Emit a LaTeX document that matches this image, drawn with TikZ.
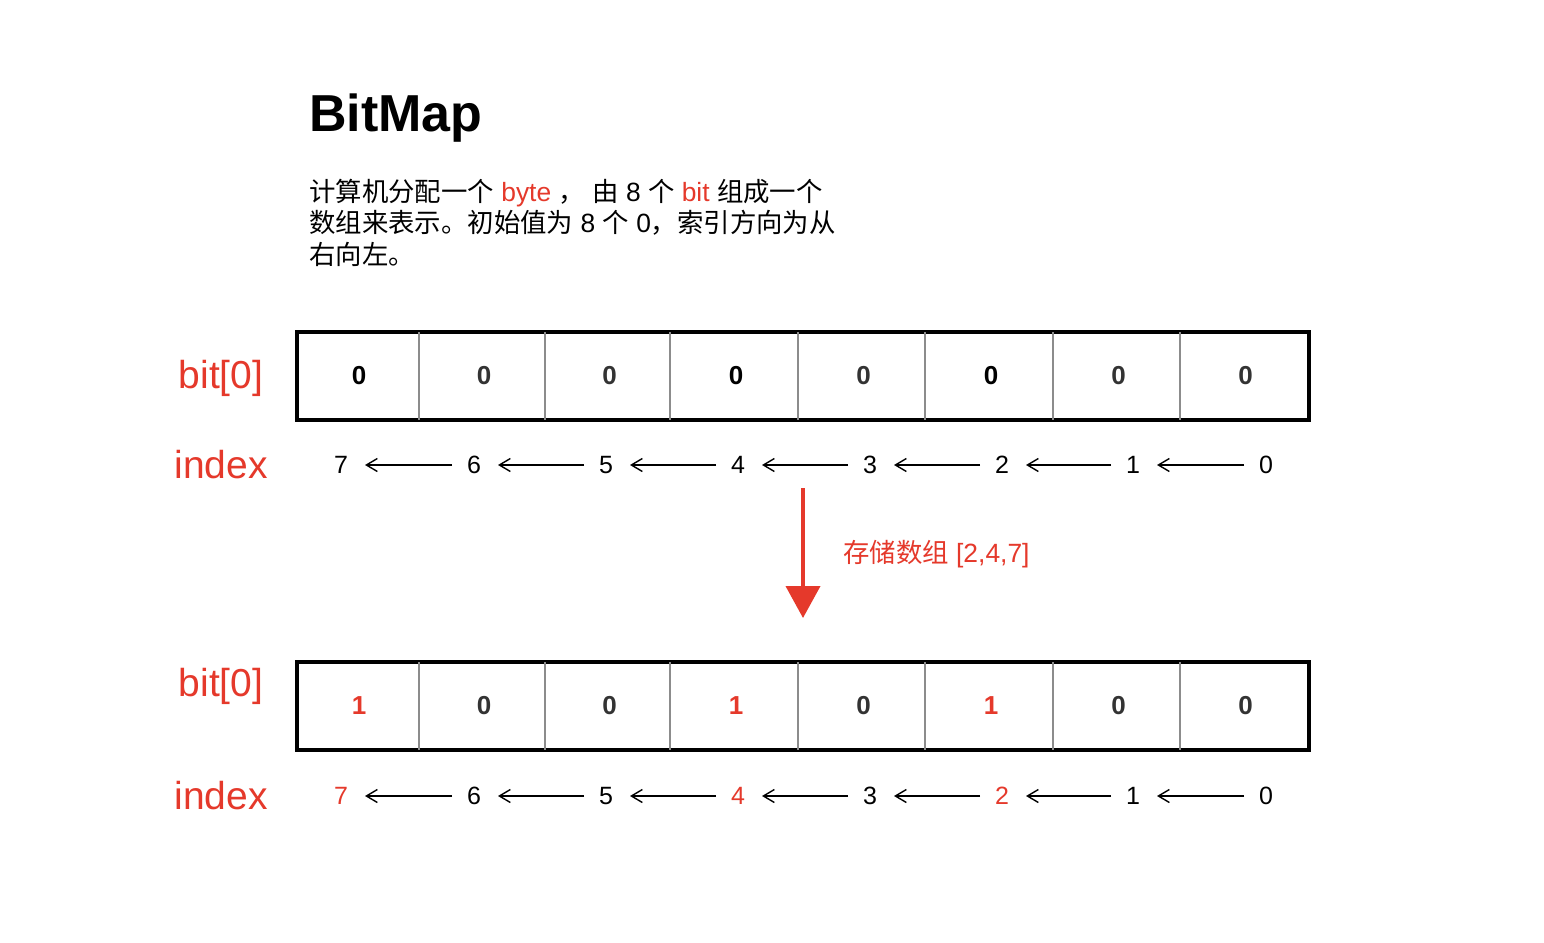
\documentclass[tikz,border=0pt]{standalone}
\usepackage{fontspec}
\setmainfont{Liberation Sans}
\newfontfamily\cjk{Noto Sans CJK SC}
\usetikzlibrary{arrows.meta,calc}
\definecolor{myred}{RGB}{229,57,43}
\definecolor{dgray}{RGB}{51,51,51}
\definecolor{lgray}{RGB}{140,140,140}
\tikzset{
  cellval/.style={font=\fontsize{26}{26}\selectfont\bfseries, inner sep=0pt},
  idx/.style={font=\fontsize{25}{25}\selectfont, inner sep=0pt},
  sidelbl/.style={font=\fontsize{39}{39}\selectfont, text=myred, inner sep=0pt},
  idxarr/.style={-{Straight Barb[length=11pt,width=13pt]}, line width=1.4pt, shorten >=24pt, shorten <=22pt},
  rowbox/.style={draw=black, line width=3.5pt, minimum width=1012pt, minimum height=88pt, inner sep=0pt},
  divider/.style={draw=lgray, line width=1.8pt},
  desc/.style={font=\fontsize{26.4}{26.4}\selectfont, anchor=base west, inner sep=0pt},
}
\begin{document}
\begin{tikzpicture}[x=1pt,y=-1pt]
\useasboundingbox[fill=white] (0,0) rectangle (1544,942);
% title
\node[font=\fontsize{52}{52}\selectfont\bfseries, anchor=base west, inner sep=0pt] (title) at (309,131) {BitMap};
% description
\node[desc] (d1) at (309,201.5) {{\cjk 计算机分配一个} \textcolor{myred}{byte} {\cjk ，} {\cjk 由} 8 {\cjk 个} \textcolor{myred}{bit} {\cjk 组成一个}};
\node[desc] (d2) at (309,232.5) {{\cjk 数组来表示。初始值为} 8 {\cjk 个} 0{\cjk ，索引方向为从}};
\node[desc] (d3) at (309,264.5) {{\cjk 右向左。}};
% rows
\foreach \r/\yy/\iy/\by in {1/376/465/378, 2/706/796/686}{
  \node[rowbox] (row\r) at (803,\yy) {};
  \foreach \dx in {421,547,672,800,927,1055,1182}{
    \draw[divider] ($(row\r.north west)+(\dx-297,1.75)$) -- ($(row\r.south west)+(\dx-297,-1.75)$);
  }
  \node[sidelbl] (bit\r) at (221,\by) {bit[0]};
  \node[sidelbl] (index\r) at (221,\iy) {index};
}
% top row values
\foreach \k/\xx/\c in {1/359/black,2/484/dgray,3/609.5/dgray,4/736/black,5/863.5/dgray,6/991/black,7/1118.5/dgray,8/1245.5/dgray}{
  \node[cellval, text=\c] (ta\k) at (\xx,376) {0};
}
% bottom row values
\foreach \k/\xx/\v/\c in {1/359/1/myred,2/484/0/dgray,3/609.5/0/dgray,4/736/1/myred,5/863.5/0/dgray,6/991/1/myred,7/1118.5/0/dgray,8/1245.5/0/dgray}{
  \node[cellval, text=\c] (ba\k) at (\xx,706) {\v};
}
% index rows
\foreach \n/\xx in {7/341,6/474,5/606,4/738,3/870,2/1002,1/1133,0/1266}{
  \node[idx] (ti\n) at (\xx,465) {\n};
}
\foreach \n/\xx/\c in {7/341/myred,6/474/black,5/606/black,4/738/myred,3/870/black,2/1002/myred,1/1133/black,0/1266/black}{
  \node[idx, text=\c] (bi\n) at (\xx,796) {\n};
}
\foreach \a/\b in {0/1,1/2,2/3,3/4,4/5,5/6,6/7}{
  \draw[idxarr] (ti\a.center) -- (ti\b.center);
  \draw[idxarr] (bi\a.center) -- (bi\b.center);
}
% big red arrow
\coordinate (rs) at (803,488);
\coordinate (re) at (803,618);
\draw[draw=myred, line width=4pt, -{Triangle[length=32pt,width=34pt]}, color=myred] (rs) -- (re);
\node[font=\fontsize{26.4}{26.4}\selectfont, text=myred, anchor=west, inner sep=0pt] (store) at (843,554) {{\cjk 存储数组} [2,4,7]};
\end{tikzpicture}
\end{document}
